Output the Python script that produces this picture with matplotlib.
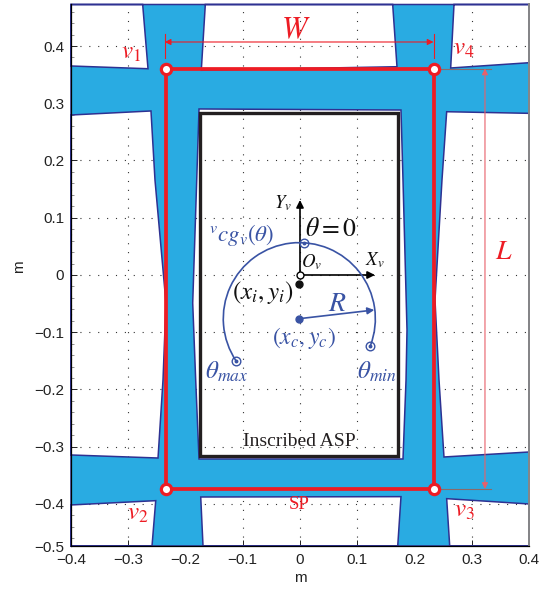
import numpy as np
import matplotlib
matplotlib.use("Agg")
import matplotlib.pyplot as plt
from matplotlib.path import Path
from matplotlib.patches import PathPatch, Arc, FancyArrowPatch

plt.rcParams['font.family'] = ['Liberation Sans', 'DejaVu Sans']
plt.rcParams['mathtext.fontset'] = 'stix'

x_ticks = [-0.4, -0.3, -0.2, -0.1, 0, 0.1, 0.2, 0.3, 0.4]
x_labels = ['\u22120.4', '\u22120.3', '\u22120.2', '\u22120.1', '0', '0.1', '0.2', '0.3', '0.4']
y_ticks = [-0.4734, -0.4, -0.3, -0.2, -0.1, 0, 0.1, 0.2, 0.3, 0.4]
y_labels = ['\u22120.5', '\u22120.4', '\u22120.3', '\u22120.2', '\u22120.1', '0', '0.1', '0.2', '0.3', '0.4']
xlim = (-0.4, 0.4)
ylim = (-0.4734, 0.4725)

outer = [(-0.4, 0.4725), (-0.4, -0.4734), (0.4, -0.4734), (0.4, 0.4725)]
hole_tl = [(-0.4, 0.4725), (-0.2748, 0.4725), (-0.2655, 0.3603), (-0.4, 0.3651)]
hole_tc = [(-0.1654, 0.4725), (0.1619, 0.4725), (0.1694, 0.3638), (-0.1724, 0.3576)]
hole_tr = [(0.269, 0.4725), (0.4, 0.4725), (0.4, 0.3708), (0.2632, 0.3616)]
hole_ml = [(-0.4, 0.2795), (-0.2603, 0.2865), (-0.2533, 0.1659), (-0.2341, -0.0489),
           (-0.2393, -0.1834), (-0.248, -0.3197), (-0.4, -0.3144)]
hole_c = [(-0.1764, 0.29), (0.1764, 0.2882), (0.1799, 0.1659), (0.1869, -0.0961),
          (0.1852, -0.1834), (0.1799, -0.3214), (-0.1764, -0.3214), (-0.1822, -0.1834),
          (-0.1874, -0.0489), (-0.1804, 0.1659)]
hole_mr = [(0.4, 0.2824), (0.2562, 0.2852), (0.248, 0.1659), (0.2358, -0.0437),
           (0.2428, -0.1834), (0.2515, -0.3179), (0.4, -0.3092)]
hole_bl = [(-0.4, -0.4017), (-0.252, -0.3942), (-0.2585, -0.4734), (-0.4, -0.4734)]
hole_bc = [(-0.1694, -0.4734), (-0.1734, -0.3878), (0.1764, -0.3872), (0.1707, -0.4734)]
hole_br = [(0.2615, -0.4734), (0.2562, -0.3907), (0.4, -0.4), (0.4, -0.4734)]
holes = [hole_tl, hole_tc, hole_tr, hole_ml, hole_c, hole_mr, hole_bl, hole_bc, hole_br]

sp_x = [-0.2349, 0.2349, 0.2349, -0.2349]
sp_y = [0.3607, 0.3607, -0.3738, -0.3738]
asp_x = [-0.1738, 0.172, 0.172, -0.1738]
asp_y = [0.2838, 0.2838, -0.317, -0.317]

arc_center = (-0.0012, -0.0763)
arc_radius = 0.1328
arc_start, arc_end = -20.8, 214
cg_x = [0.1228, -0.1118, 0.007]
cg_y = [-0.1235, -0.1507, 0.0564]
icr_point = (-0.0017, -0.0162)
r_end = (0.1298, -0.0611)
w_arrow = (-0.2363, 0.2332, 0.407)
l_arrow = (0.3231, 0.3607, -0.3738)

RED = '#ed1c24'
BLUE = '#3953a4'
FILL = '#29abe2'
EDGE = '#2e3192'

fig = plt.figure(figsize=(5.52, 5.91), dpi=100)
W, H = 552, 591
ax = fig.add_axes([71 / W, 1 - 546 / H, 458 / W, (546 - 4.5) / H])
ax.set_xlim(*xlim)
ax.set_ylim(*ylim)

ax.set_xticks(x_ticks, x_labels)
ax.set_yticks(y_ticks, y_labels)
ax.set_yticks(np.arange(-23, 24) * 0.02, minor=True)
ax.tick_params(axis='both', which='major', direction='in', length=4, width=0.7, labelsize=11, pad=5, colors='#222222')
ax.tick_params(axis='y', which='minor', direction='in', length=2, width=0.5, color='#666666')
ax.grid(True, which='major', color='#333333', linestyle=(0, (1, 7)), linewidth=0.8, zorder=0)
ax.set_axisbelow(True)
ax.spines['top'].set_visible(False)
ax.spines['right'].set_color('#888888')
ax.spines['right'].set_linewidth(1.4)
ax.spines['left'].set_linewidth(0.9)
ax.spines['bottom'].set_linewidth(0.9)
ax.set_xlabel('m', fontsize=11, labelpad=3, color='#222222')
ax.set_ylabel('m', fontsize=11, color='#222222')
ax.yaxis.set_label_coords(-0.098, 0.5165)


def oriented(pts, ccw):
    a = np.array(pts)
    area = 0.5 * np.sum(a[:, 0] * np.roll(a[:, 1], -1) - np.roll(a[:, 0], -1) * a[:, 1])
    return pts if (area > 0) == ccw else pts[::-1]


verts, codes = [], []
for i, ring in enumerate([outer] + holes):
    r = oriented(ring, i == 0)
    verts += list(r) + [r[0]]
    codes += [Path.MOVETO] + [Path.LINETO] * (len(r) - 1) + [Path.CLOSEPOLY]
ax.add_patch(PathPatch(Path(verts, codes), facecolor=FILL, edgecolor=EDGE, linewidth=1.1,
                       zorder=1, clip_on=False))

ax.fill(asp_x, asp_y, fill=False, edgecolor='#231f20', linewidth=2.4, zorder=3, joinstyle='miter')
ax.fill(sp_x, sp_y, fill=False, edgecolor=RED, linewidth=2.7, zorder=4)

# dimension lines
thin = dict(color=RED, linewidth=0.8, zorder=3.5)
for xv in w_arrow[:2]:
    ax.plot([xv, xv], [w_arrow[2] - 0.028, w_arrow[2] + 0.014], **thin)
for yv in l_arrow[1:]:
    ax.plot([sp_x[1], l_arrow[0] + 0.0105], [yv, yv], color='#8a6a6a', linewidth=0.8, zorder=3.5)


def arrow(a, b, color, lw=0.8, ms=9, z=5, style='-|>', alpha=1):
    ax.add_patch(FancyArrowPatch(a, b, arrowstyle=style, mutation_scale=ms, color=color,
                                 linewidth=lw, shrinkA=0, shrinkB=0, zorder=z, alpha=alpha))


arrow((w_arrow[0], w_arrow[2]), (w_arrow[1], w_arrow[2]), RED, style='<|-|>', z=3.6)
arrow((l_arrow[0], l_arrow[1]), (l_arrow[0], l_arrow[2]), '#e8606a', style='<|-|>', z=3.6)

ax.plot(sp_x, sp_y, linestyle='none', marker='o', markersize=7.4, markerfacecolor='white',
        markeredgecolor=RED, markeredgewidth=2.3, zorder=6)

# vehicle frame
arrow((0, 0), (0, 0.131), 'black', lw=1.2, ms=11)
arrow((0, 0), (0.1310, 0), 'black', lw=1.2, ms=11)
ax.plot([0], [0], 'o', markersize=5, markerfacecolor='white', markeredgecolor='black', markeredgewidth=1, zorder=7)
ax.plot(*icr_point, 'o', markersize=5, color='#111111', zorder=7)

# centre-of-gravity locus
ax.add_patch(Arc(arc_center, 2 * arc_radius, 2 * arc_radius, theta1=arc_start, theta2=arc_end,
                 color=BLUE, linewidth=1.2, zorder=5))
ax.plot(*arc_center, 'o', markersize=5, color=BLUE, zorder=6)
arrow(arc_center, r_end, BLUE, lw=1.2, ms=10)
ax.plot(cg_x, cg_y, 'o', markersize=6.2, markerfacecolor='none', markeredgecolor=BLUE, markeredgewidth=1, zorder=6)
ax.plot(cg_x, cg_y, 'o', markersize=1.8, color=BLUE, zorder=6)


def t(x, y, s, color, size, **kw):
    ax.text(x, y, s, color=color, fontsize=size, ha='center', va='center', zorder=8, **kw)


t(-0.2952, 0.3895, r'$v_{\mathit{1}}$', RED, 18)
t(0.2865, 0.3965, r'$v_{\mathit{4}}$', RED, 18)
t(-0.283, -0.4157, r'$v_{\mathit{2}}$', RED, 18)
t(0.2865, -0.4105, r'$v_{\mathit{3}}$', RED, 18)
t(-0.007, 0.4275, r'$W$', RED, 22)
t(0.3563, 0.0402, r'$L$', RED, 20)
t(-0.0017, -0.4017, 'SP', RED, 13.5, family='Liberation Serif')
t(-0.0017, -0.2917, 'Inscribed ASP', '#231f20', 14, family='Liberation Serif')
t(0.0541, 0.0803, r'$\theta=0$', '#111111', 18.5)
t(-0.1013, 0.0699, r'${}^{v}cg_{v}(\theta)$', BLUE, 16.5)
t(0.021, 0.0227, r'$O_{v}$', '#111111', 13.5)
t(0.131, 0.0262, r'$X_{v}$', '#111111', 13.5)
t(-0.0297, 0.1258, r'$Y_{v}$', '#111111', 13.5)
t(-0.0646, -0.0314, r'$(x_{i},y_{i})$', '#111111', 18)
t(0.0646, -0.0507, r'$R$', BLUE, 20)
t(0.007, -0.11, r'$(x_{c},y_{c})$', BLUE, 17)
t(-0.1275, -0.1694, r'$\theta_{max}$', BLUE, 18)
t(0.1345, -0.1694, r'$\theta_{min}$', BLUE, 18)

fig.savefig('out.png', dpi=100)
